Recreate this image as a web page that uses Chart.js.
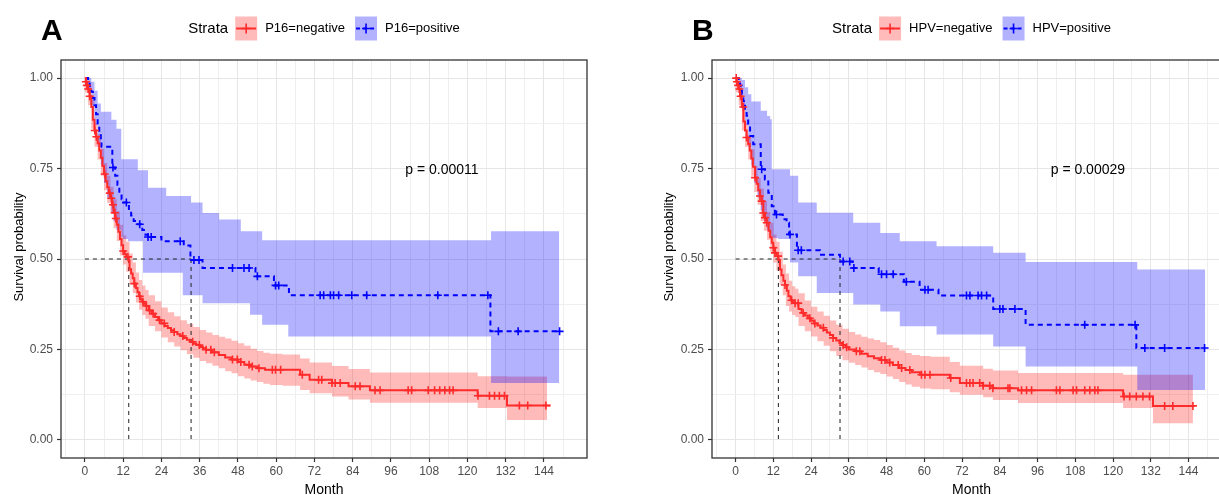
<!DOCTYPE html>
<html>
<head>
<meta charset="utf-8">
<title>Survival by P16 / HPV status</title>
<script src="https://cdn.jsdelivr.net/npm/chart.js@4.4.1/dist/chart.umd.min.js"></script>
<style>
  html, body { margin: 0; padding: 0; background: #fff; overflow: hidden; }
  body { width: 1219px; height: 495px; position: relative; }
  canvas { position: absolute; top: 0; }
  #chartA { left: 0; }
  #chartB { left: 651px; }
</style>
</head>
<body>
<canvas id="chartA" width="600" height="510"></canvas>
<canvas id="chartB" width="600" height="510"></canvas>
<script>
// axis ticks (months / survival probability)
const xMajorTicks = [0, 12, 24, 36, 48, 60, 72, 84, 96, 108, 120, 132, 144];
const xMinorTicks = [-6, 6, 18, 30, 42, 54, 66, 78, 90, 102, 114, 126, 138, 150];
const yMajorTicks = [0, 0.25, 0.5, 0.75, 1];
const yMinorTicks = [0.125, 0.375, 0.625, 0.875];

// panel A : P16
const p16Strata = ['P16=negative', 'P16=positive'];
const p16Pval = 'p = 0.00011';
const p16Medians = [13.75, 33.3];

const p16NegTime = [0, 0.3, 0.6, 1, 1.5, 2, 2.5, 3, 3.5, 4, 4.5, 5, 5.5, 6, 6.5, 7, 7.5, 8, 8.5, 9, 9.5, 10, 10.5, 11, 11.5,
  12, 12.5, 13, 13.75, 14, 14.5, 15, 15.5, 16, 16.5, 17, 17.5, 18, 18.5, 19, 20, 21, 22, 23, 24, 25, 26, 27, 28, 29,
  30, 31, 32, 33, 34, 35, 36, 37, 38, 40, 42, 44, 46, 48, 50, 52, 54, 56.5, 67.5, 70.5, 77.5, 82.7, 89.4, 123.2, 132.4, 146.1];
const p16NegSurv = [1, 0.99, 0.98, 0.97, 0.95, 0.92, 0.885, 0.855, 0.838, 0.82, 0.8, 0.78, 0.757, 0.735, 0.715, 0.698, 0.682, 0.668, 0.65, 0.628, 0.612, 0.595, 0.575, 0.555, 0.538,
  0.522, 0.513, 0.506, 0.495, 0.472, 0.46, 0.447, 0.432, 0.42, 0.408, 0.397, 0.388, 0.382, 0.376, 0.37, 0.358, 0.349, 0.34, 0.331, 0.322, 0.315, 0.309, 0.303, 0.298, 0.292,
  0.287, 0.282, 0.277, 0.271, 0.266, 0.262, 0.257, 0.253, 0.249, 0.242, 0.235, 0.228, 0.222, 0.215, 0.208, 0.203, 0.198, 0.194, 0.18, 0.166, 0.157, 0.148, 0.137, 0.122, 0.095, 0.095];
const p16NegCensor = [0.3, 0.6, 1, 1.5, 3.1, 3.6, 6.2, 7.8, 8.3, 8.8, 9.4, 9.7, 12, 13.5, 15.5, 17.2, 18.2, 19.3, 20.3, 21.4, 23.4, 24.9, 28, 30.7,
  33.8, 35.9, 38, 39.5, 40.6, 46.3, 47.8, 48.9, 51.5, 52.5, 54.6, 58.8, 59.8, 61.4, 68.2, 73.3, 74.3, 77.5, 78.5, 80.1, 84.8, 86.3, 91, 92.6,
  101.4, 102.5, 107.7, 109.7, 111.3, 112.9, 114.4, 115.5, 123.3, 126.9, 128.5, 130, 131.6, 136.3, 138.9, 144.6];
const p16NegBandTime = [0, 1, 2, 3, 4, 5, 6, 7, 8, 9, 10, 11, 12, 13, 14, 15, 16, 17, 18, 19, 20,
  22, 24, 26, 28, 30, 32, 34, 36, 38, 40, 42, 44, 46, 48, 50, 52, 54, 56, 58, 62, 67.5, 70.5, 77.5, 82.7, 89.4, 123.2, 132.4, 145];
const p16NegUpper = [1, 0.985, 0.94, 0.875, 0.845, 0.805, 0.765, 0.73, 0.7, 0.665, 0.632, 0.595, 0.565, 0.548, 0.515, 0.49, 0.463, 0.442, 0.427, 0.414, 0.4,
  0.383, 0.366, 0.353, 0.342, 0.331, 0.321, 0.312, 0.304, 0.297, 0.29, 0.285, 0.28, 0.274, 0.267, 0.26, 0.252, 0.246, 0.241, 0.238, 0.236, 0.225, 0.214, 0.204, 0.196, 0.186, 0.176, 0.175, 0.175];
const p16NegLower = [0.96, 0.925, 0.86, 0.81, 0.775, 0.73, 0.69, 0.655, 0.625, 0.585, 0.55, 0.51, 0.485, 0.465, 0.43, 0.405, 0.38, 0.36, 0.345, 0.335, 0.315,
  0.3, 0.283, 0.27, 0.258, 0.248, 0.237, 0.227, 0.218, 0.212, 0.205, 0.198, 0.19, 0.184, 0.176, 0.17, 0.164, 0.16, 0.155, 0.152, 0.15, 0.138, 0.129, 0.12, 0.112, 0.103, 0.088, 0.055, 0.055];

const p16PosTime = [0, 1, 1.5, 2, 2.5, 3, 3.5, 4, 4.5, 5, 5.2, 8.6, 9.5, 10.2, 10.8, 11.5, 12, 13.8, 14.5, 15.3, 16.2, 18, 19, 19.8, 24, 31, 33.1, 36.9, 53.5, 59.3, 64, 127.2, 149];
const p16PosSurv = [1, 0.985, 0.978, 0.962, 0.945, 0.925, 0.9, 0.875, 0.85, 0.825, 0.81, 0.753, 0.73, 0.705, 0.68, 0.665, 0.656, 0.635, 0.62, 0.605, 0.596, 0.58, 0.567, 0.561, 0.549, 0.537, 0.497, 0.475, 0.452, 0.427, 0.4, 0.3, 0.3];
const p16PosCensor = [8.8, 13, 17.2, 19.8, 20.8, 29.9, 34.2, 35.8, 46.3, 49.9, 51.5, 54.1, 59.8, 60.8, 73.8, 74.9, 77, 78, 79.6, 83.7, 88.4, 110.7, 126.4, 129.7, 135.9, 148.9];
const p16PosBandTime = [0, 1, 2, 3, 4, 5, 6, 7, 8.3, 9, 9.9, 11.4, 12, 13.5, 16.6, 18.2, 19.8, 25.5, 30.7, 33.3, 36.9, 42.1, 48.9, 51.8, 55.6, 63.8, 127.4, 148.8];
const p16PosUpper = [1, 1, 0.99, 0.965, 0.93, 0.907, 0.907, 0.907, 0.885, 0.885, 0.86, 0.776, 0.776, 0.776, 0.745, 0.745, 0.697, 0.674, 0.674, 0.656, 0.627, 0.609, 0.577, 0.577, 0.552, 0.552, 0.577, 0.577];
const p16PosLower = [1, 0.965, 0.925, 0.87, 0.81, 0.76, 0.71, 0.67, 0.63, 0.605, 0.58, 0.56, 0.555, 0.549, 0.549, 0.462, 0.462, 0.462, 0.4, 0.4, 0.378, 0.378, 0.378, 0.346, 0.318, 0.286, 0.157, 0.157];

// panel B : HPV
const hpvStrata = ['HPV=negative', 'HPV=positive'];
const hpvPval = 'p = 0.00029';
const hpvMedians = [13.6, 33.2];

const hpvNegTime = [0, 0.3, 0.6, 1, 1.4, 2, 2.5, 3, 3.5, 4, 4.5, 5, 5.5, 6.2, 6.7, 7.2, 7.75, 8.3, 8.8, 9.35, 9.9, 10.5, 11, 11.5, 12,
  12.5, 13, 13.6, 14.1, 14.6, 15.2, 15.7, 16.3, 16.8, 17.5, 18.2, 18.9, 20, 21, 22, 23, 24, 25, 26, 27, 28, 29, 30, 31, 32,
  33, 34, 35, 36, 38, 40, 42, 44, 46, 48, 50, 52, 54, 56, 58.6, 68.1, 71.3, 78.7, 81.8, 89.8, 123.2, 132.7, 145.9];
const hpvNegSurv = [1, 0.99, 0.98, 0.97, 0.95, 0.92, 0.88, 0.855, 0.836, 0.818, 0.8, 0.778, 0.755, 0.725, 0.708, 0.69, 0.674, 0.66, 0.627, 0.614, 0.6, 0.578, 0.56, 0.545, 0.531,
  0.517, 0.508, 0.497, 0.471, 0.455, 0.44, 0.428, 0.412, 0.397, 0.386, 0.38, 0.378, 0.362, 0.351, 0.344, 0.336, 0.329, 0.322, 0.316, 0.31, 0.304, 0.297, 0.29, 0.282, 0.275,
  0.268, 0.262, 0.256, 0.25, 0.245, 0.238, 0.231, 0.226, 0.221, 0.214, 0.207, 0.199, 0.193, 0.187, 0.18, 0.171, 0.157, 0.15, 0.143, 0.137, 0.12, 0.094, 0.094];
const hpvNegCensor = [0.2, 0.4, 0.8, 1.2, 1.6, 2.45, 3.5, 6.2, 7.75, 8.3, 8.8, 9.35, 9.9, 12, 12.5, 13.5, 15.7, 17.8, 18.9, 19.9, 21.5, 23.6, 25.2, 27.9,
  31, 34.2, 35.3, 38.4, 39.5, 46.4, 47.5, 49, 51.7, 52.8, 55.4, 59.1, 60.2, 61.8, 68.4, 73.4, 74.5, 75.5, 77.6, 78.7, 80.8, 81.8, 86.6, 87.2,
  90.9, 92.5, 94.1, 102, 103.1, 107.3, 108.4, 111, 112.6, 114.2, 115.2, 123.5, 125.3, 127.4, 129.5, 131.6, 136.4, 139, 145.4];
const hpvNegBandTime = [0, 1, 2, 3, 4, 5, 6, 7, 8, 9, 10, 11, 12, 13, 14, 15, 16, 17, 18, 19, 20,
  22, 24, 26, 28, 30, 32, 34, 36, 38, 40, 42, 44, 46, 48, 50, 52, 54, 56, 58.6, 62, 68.1, 71.3, 78.7, 81.8, 89.8, 123.2, 132.7, 145.4];
const hpvNegUpper = [1, 0.985, 0.94, 0.875, 0.843, 0.803, 0.757, 0.724, 0.695, 0.66, 0.63, 0.6, 0.568, 0.548, 0.52, 0.485, 0.46, 0.44, 0.425, 0.418, 0.405,
  0.385, 0.368, 0.355, 0.343, 0.33, 0.318, 0.307, 0.298, 0.291, 0.285, 0.28, 0.276, 0.27, 0.262, 0.255, 0.247, 0.24, 0.235, 0.232, 0.23, 0.215, 0.205, 0.197, 0.192, 0.185, 0.18, 0.18, 0.18];
const hpvNegLower = [0.96, 0.925, 0.855, 0.81, 0.775, 0.73, 0.685, 0.65, 0.605, 0.578, 0.553, 0.52, 0.49, 0.468, 0.428, 0.4, 0.37, 0.355, 0.345, 0.34, 0.315,
  0.3, 0.286, 0.273, 0.26, 0.245, 0.232, 0.22, 0.213, 0.207, 0.2, 0.193, 0.187, 0.182, 0.175, 0.168, 0.16, 0.153, 0.147, 0.142, 0.14, 0.132, 0.125, 0.118, 0.11, 0.102, 0.088, 0.046, 0.046];

const hpvPosTime = [0, 1, 1.4, 2, 2.45, 3, 3.5, 4, 4.6, 5.6, 8, 9.3, 10.4, 11.5, 12.5, 15, 16.2, 17, 19.5, 26.8, 33.2, 37.2, 45.5, 53.5, 58.5, 64.5, 81.9, 92.2, 127.4, 149.1];
const hpvPosSurv = [1, 0.985, 0.979, 0.955, 0.937, 0.915, 0.896, 0.868, 0.84, 0.817, 0.748, 0.72, 0.683, 0.646, 0.623, 0.61, 0.6, 0.568, 0.524, 0.512, 0.493, 0.475, 0.458, 0.437, 0.415, 0.399, 0.362, 0.318, 0.254, 0.254];
const hpvPosCensor = [8.3, 13, 17.3, 19.9, 20.9, 34.2, 36.3, 37.6, 46.4, 48, 50.1, 54.3, 60.2, 61.2, 73.4, 74.5, 77.1, 78.2, 79.8, 84, 85, 88.8, 111, 127, 130.1, 136.4, 149.1];
const hpvPosBandTime = [0, 1, 2, 3, 4, 5, 6, 7, 8, 9, 10, 11, 11.5, 12, 13.5, 17.3, 19.9, 25.8, 37.4, 46, 52.2, 63.9, 81.9, 92.2, 127.7, 149.3];
const hpvPosUpper = [1, 1, 0.995, 0.975, 0.955, 0.935, 0.935, 0.935, 0.91, 0.91, 0.895, 0.886, 0.748, 0.748, 0.748, 0.73, 0.656, 0.628, 0.6, 0.572, 0.549, 0.535, 0.517, 0.492, 0.471, 0.471];
const hpvPosLower = [1, 0.965, 0.925, 0.87, 0.81, 0.76, 0.71, 0.67, 0.635, 0.605, 0.58, 0.565, 0.56, 0.558, 0.555, 0.49, 0.452, 0.406, 0.374, 0.355, 0.314, 0.291, 0.258, 0.203, 0.138, 0.138];

const RED = '#ff2b2b';
const BLUE = '#0000ff';
const RED_BAND = 'rgba(255, 0, 0, 0.27)';
const BLUE_BAND = 'rgba(0, 0, 255, 0.3)';
const FONT = '"Liberation Sans", Arial, sans-serif';

Chart.defaults.font.family = FONT;

// survival value of a step curve at time t (used to place the censor marks on the curve)
function survAt(times, surv, t) {
    let s = surv[0];
    for (let i = 0; i < times.length; i++) {
        if (times[i] <= t) s = surv[i];
        else break;
    }
    return s;
}

function toPoints(times, values) {
    return times.map((t, i) => ({x: t, y: values[i]}));
}

const isMajorX = v => xMajorTicks.includes(v);
const isMajorY = v => yMajorTicks.some(m => Math.abs(m - v) < 1e-9);

//frame, p value, panel letter, y title and the strata legend
const kmDecor = {
    id: 'kmDecor',
    afterDraw(chart, args, opts) {
        const {ctx, chartArea: a, scales} = chart;
        ctx.save();
        ctx.setLineDash([]);
        ctx.strokeStyle = '#333';
        ctx.lineWidth = 1.3;
        ctx.strokeRect(a.left, a.top, a.right - a.left, a.bottom - a.top);

        ctx.fillStyle = '#000';
        ctx.font = '14px ' + FONT;
        ctx.textAlign = 'center';
        ctx.textBaseline = 'middle';
        ctx.fillText(opts.pval, scales.x.getPixelForValue(112), scales.y.getPixelForValue(0.745));

        // y axis title, sits a little above the panel middle like the original
        ctx.save();
        ctx.translate(opts.yTitleX, (a.top + a.bottom) / 2 - 12);
        ctx.rotate(-Math.PI / 2);
        ctx.font = '13px ' + FONT;
        ctx.fillText('Survival probability', 0, 0);
        ctx.restore();

        ctx.font = 'bold 30px ' + FONT;
        ctx.textAlign = 'left';
        ctx.textBaseline = 'alphabetic';
        ctx.fillText(opts.letter, 41, 40);

        // legend
        const cy = 28.5, keyW = 22, keyH = 24;
        ctx.font = '15px ' + FONT;
        const titleW = ctx.measureText('Strata').width;
        ctx.font = '13px ' + FONT;
        const labelW = opts.items.map(it => ctx.measureText(it.label).width);
        let total = titleW + 7;
        labelW.forEach((w, i) => { total += keyW + 8 + w + (i < labelW.length - 1 ? 10 : 0); });
        let px = (a.left + a.right) / 2 - total / 2;
        ctx.textBaseline = 'middle';
        ctx.font = '15px ' + FONT;
        ctx.fillText('Strata', px, cy);
        px += titleW + 7;
        opts.items.forEach((it, i) => {
            ctx.fillStyle = it.band;
            ctx.fillRect(px, cy - keyH / 2, keyW, keyH);
            ctx.strokeStyle = it.color;
            ctx.lineWidth = 2;
            ctx.setLineDash(it.dash);
            ctx.beginPath();
            ctx.moveTo(px + 1, cy);
            ctx.lineTo(px + keyW - 1, cy);
            ctx.stroke();
            ctx.setLineDash([]);
            ctx.lineWidth = 1.6;
            ctx.beginPath();
            ctx.moveTo(px + keyW / 2, cy - 5);
            ctx.lineTo(px + keyW / 2, cy + 5);
            ctx.moveTo(px + keyW / 2 - 4, cy);
            ctx.lineTo(px + keyW / 2 + 4, cy);
            ctx.stroke();
            px += keyW + 8;
            ctx.fillStyle = '#000';
            ctx.font = '13px ' + FONT;
            ctx.fillText(it.label, px, cy);
            px += labelW[i] + 10;
        });
        ctx.restore();
    }
};

function drawKM(canvasId, s) {
    const [medNeg, medPos] = s.medians;
    const medianLine = {
        borderColor: '#222', borderWidth: 1, borderDash: [4, 4],
        pointRadius: 0, fill: false, order: 3
    };
    const datasets = [
        {
            label: s.strata[0] + ' censor',
            data: s.negCensor.map(t => ({x: t, y: survAt(s.negTime, s.negSurv, t)})),
            showLine: false, pointStyle: 'cross', pointRadius: 4,
            pointBorderWidth: 1.6, borderColor: RED, pointBorderColor: RED, order: 1
        },
        {
            label: s.strata[1] + ' censor',
            data: s.posCensor.map(t => ({x: t, y: survAt(s.posTime, s.posSurv, t)})),
            showLine: false, pointStyle: 'cross', pointRadius: 4,
            pointBorderWidth: 1.6, borderColor: BLUE, pointBorderColor: BLUE, order: 1
        },
        {
            label: s.strata[0],
            data: toPoints(s.negTime, s.negSurv),
            stepped: 'before', borderColor: RED, borderWidth: 2, pointRadius: 0, fill: false, order: 2
        },
        {
            label: s.strata[1],
            data: toPoints(s.posTime, s.posSurv),
            stepped: 'before', borderColor: BLUE, borderWidth: 2, borderDash: [5, 4],
            pointRadius: 0, fill: false, order: 2
        },
        Object.assign({label: 'median h', data: [{x: 0, y: 0.5}, {x: medPos, y: 0.5}]}, medianLine),
        Object.assign({label: 'median neg', data: [{x: medNeg, y: 0.5}, {x: medNeg, y: 0}]}, medianLine),
        Object.assign({label: 'median pos', data: [{x: medPos, y: 0.5}, {x: medPos, y: 0}]}, medianLine),
        {
            label: 'pos upper', data: toPoints(s.posBandTime, s.posUpper),
            stepped: 'before', borderWidth: 0, borderColor: 'rgba(0,0,0,0)', pointRadius: 0,
            fill: '+1', backgroundColor: BLUE_BAND, order: 4
        },
        {
            label: 'pos lower', data: toPoints(s.posBandTime, s.posLower),
            stepped: 'before', borderWidth: 0, borderColor: 'rgba(0,0,0,0)', pointRadius: 0,
            fill: false, order: 4
        },
        {
            label: 'neg upper', data: toPoints(s.negBandTime, s.negUpper),
            stepped: 'before', borderWidth: 0, borderColor: 'rgba(0,0,0,0)', pointRadius: 0,
            fill: '+1', backgroundColor: RED_BAND, order: 5
        },
        {
            label: 'neg lower', data: toPoints(s.negBandTime, s.negLower),
            stepped: 'before', borderWidth: 0, borderColor: 'rgba(0,0,0,0)', pointRadius: 0,
            fill: false, order: 5
        }
    ];

    return new Chart(document.getElementById(canvasId), {
        type: 'line',
        data: {datasets: datasets},
        plugins: [kmDecor],
        options: {
            responsive: false,
            animation: false,
            devicePixelRatio: 1,
            events: [],
            layout: {padding: {left: 0, top: 60, right: s.padRight, bottom: 0}},
            plugins: {
                legend: {display: false},
                tooltip: {enabled: false},
                filler: {propagate: false, drawTime: 'beforeDatasetsDraw'},
                kmDecor: {
                    pval: s.pval,
                    letter: s.letter,
                    yTitleX: s.yTitleX,
                    items: [
                        {label: s.strata[0], color: RED, band: RED_BAND, dash: []},
                        {label: s.strata[1], color: BLUE, band: BLUE_BAND, dash: [4, 3]}
                    ]
                }
            },
            scales: {
                x: {
                    type: 'linear',
                    min: -7.5,
                    max: 157.5,
                    afterBuildTicks: axis => {
                        axis.ticks = xMajorTicks.concat(xMinorTicks).sort((a, b) => a - b).map(v => ({value: v}));
                    },
                    afterFit: axis => { axis.height = 52; },
                    ticks: {
                        autoSkip: false, maxRotation: 0, padding: 2,
                        color: '#4d4d4d', font: {size: 12},
                        callback: v => isMajorX(v) ? String(v) : ''
                    },
                    grid: {
                        color: c => (c.tick && isMajorX(c.tick.value)) ? '#e6e6e6' : '#efefef',
                        lineWidth: 1,
                        tickLength: 4,
                        tickWidth: 1.2,
                        tickColor: c => (c.tick && isMajorX(c.tick.value)) ? '#333' : 'rgba(0,0,0,0)'
                    },
                    border: {display: false},
                    title: {
                        display: true, text: 'Month', color: '#000',
                        font: {size: 14}, padding: {top: 0, bottom: 11}
                    }
                },
                y: {
                    type: 'linear',
                    min: -0.05,
                    max: 1.05,
                    afterBuildTicks: axis => {
                        axis.ticks = yMajorTicks.concat(yMinorTicks).sort((a, b) => a - b).map(v => ({value: v}));
                    },
                    afterFit: axis => { axis.width = 61; },
                    ticks: {
                        autoSkip: false, padding: 4,
                        color: '#4d4d4d', font: {size: 12},
                        callback: v => isMajorY(v) ? v.toFixed(2) : ''
                    },
                    grid: {
                        color: c => (c.tick && isMajorY(c.tick.value)) ? '#e6e6e6' : '#efefef',
                        lineWidth: 1,
                        tickLength: 4,
                        tickWidth: 1.2,
                        tickColor: c => (c.tick && isMajorY(c.tick.value)) ? '#333' : 'rgba(0,0,0,0)'
                    },
                    border: {display: false},
                    title: {display: false}
                }
            }
        }
    });
}

drawKM('chartA', {
    letter: 'A', pval: p16Pval, strata: p16Strata, medians: p16Medians, padRight: 13, yTitleX: 19,
    negTime: p16NegTime, negSurv: p16NegSurv, negCensor: p16NegCensor,
    negBandTime: p16NegBandTime, negUpper: p16NegUpper, negLower: p16NegLower,
    posTime: p16PosTime, posSurv: p16PosSurv, posCensor: p16PosCensor,
    posBandTime: p16PosBandTime, posUpper: p16PosUpper, posLower: p16PosLower
});

drawKM('chartB', {
    letter: 'B', pval: hpvPval, strata: hpvStrata, medians: hpvMedians, padRight: 20, yTitleX: 18,
    negTime: hpvNegTime, negSurv: hpvNegSurv, negCensor: hpvNegCensor,
    negBandTime: hpvNegBandTime, negUpper: hpvNegUpper, negLower: hpvNegLower,
    posTime: hpvPosTime, posSurv: hpvPosSurv, posCensor: hpvPosCensor,
    posBandTime: hpvPosBandTime, posUpper: hpvPosUpper, posLower: hpvPosLower
});
</script>
</body>
</html>
